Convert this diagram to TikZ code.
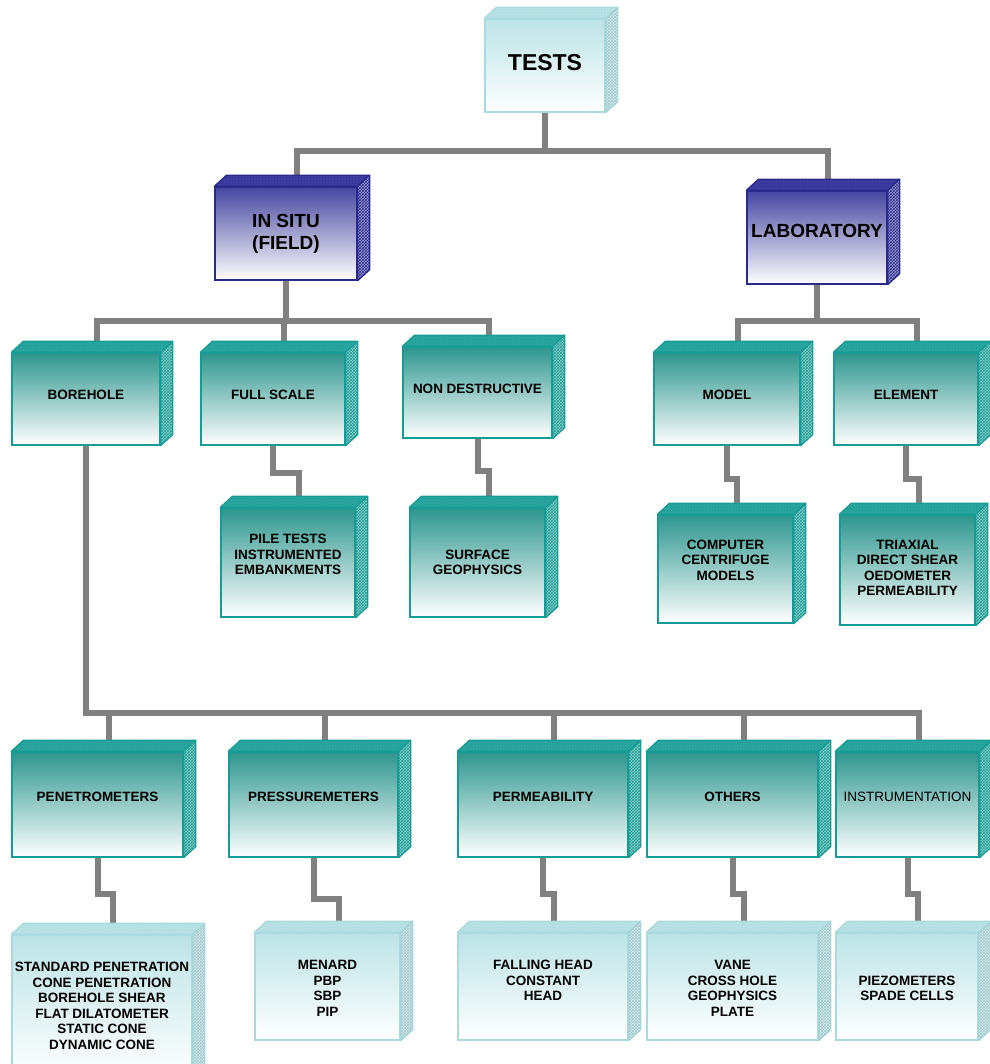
\documentclass[tikz,border=0pt]{standalone}
\usepackage{fontspec}
\setmainfont{Liberation Sans}
\usetikzlibrary{calc,backgrounds,patterns}
\definecolor{tealB}{RGB}{22,156,148}
\definecolor{tealT}{RGB}{42,166,158}
\definecolor{tealF}{RGB}{45,150,142}
\definecolor{tealS}{RGB}{150,210,205}
\definecolor{blueB}{RGB}{42,42,140}
\definecolor{blueT}{RGB}{62,62,160}
\definecolor{blueF}{RGB}{70,70,160}
\definecolor{blueS}{RGB}{160,160,210}
\definecolor{lightB}{RGB}{168,218,222}
\definecolor{lightT}{RGB}{186,226,229}
\definecolor{lightF}{RGB}{188,227,230}
\definecolor{lightS}{RGB}{214,236,238}
\definecolor{connG}{RGB}{128,128,128}
\tikzset{
  x=1pt, y=-1pt,
  box/.style={draw, line width=1.4pt, inner sep=0pt},
  tealbox/.style={box, draw=tealB, top color=tealF, bottom color=white},
  bluebox/.style={box, draw=blueB, top color=blueF, bottom color=white},
  lightbox/.style={box, draw=lightB, top color=lightF, bottom color=white},
  txt/.style={align=center, text=black, inner sep=0pt,
    font=\fontsize{13.5}{15.5}\selectfont\bfseries},
  tealtxt/.style={txt},
  lighttxt/.style={txt},
  bluetxt/.style={txt, font=\fontsize{19}{22}\selectfont\bfseries},
  tealtop/.style={fill=tealT, draw=tealB, line width=1.2pt, line join=round,
    postaction={pattern=crosshatch dots, pattern color=tealB}},
  tealside/.style={fill=tealS, draw=tealB, line width=1.2pt, line join=round,
    postaction={pattern=crosshatch, pattern color=tealB}},
  bluetop/.style={fill=blueT, draw=blueB, line width=1.2pt, line join=round,
    postaction={pattern=crosshatch dots, pattern color=blueB}},
  blueside/.style={fill=blueS, draw=blueB, line width=1.2pt, line join=round,
    postaction={pattern=crosshatch, pattern color=blueB}},
  lighttop/.style={fill=lightT, draw=lightB, line width=1.2pt, line join=round,
    postaction={pattern=crosshatch dots, pattern color=lightB}},
  lightside/.style={fill=lightS, draw=lightB, line width=1.2pt, line join=round,
    postaction={pattern=crosshatch, pattern color=lightB!80!gray}},
  conn/.style={draw=connG, line width=6pt, line join=miter},
}
% #1 text options, #2 palette, #3 name, #4 x1, #5 y1, #6 x2, #7 y2, #8 text dy, #9 text
\newcommand\mkbox[9][]{%
  \node[#2box, minimum width={#6-#4}, minimum height={#7-#5}] (#3)
    at ({(#4+#6)/2},{(#5+#7)/2}) {};
  \filldraw[#2top] (#3.north west) -- ++(12,-11) -- ($(#3.north east)+(12,-11)$)
    -- (#3.north east) -- cycle;
  \filldraw[#2side] (#3.north east) -- ++(12,-11) -- ($(#3.south east)+(12,-11)$)
    -- (#3.south east) -- cycle;
  \node[#2txt, #1] (#3-text) at ($(#3.center)+(0,#8)$) {#9};
  \coordinate (#3-top) at ($(#3.north)+(11,-11)$);
}
\begin{document}
\begin{tikzpicture}
\useasboundingbox (0,0) rectangle (989,1064);
% level 1
\mkbox[font=\fontsize{23}{27}\selectfont\bfseries]{light}{tests}{485}{19}{605}{112}{-3}{TESTS}
% level 2
\mkbox{blue}{insitu}{215}{187}{357}{280}{0}{IN SITU\\(FIELD)}
\mkbox{blue}{lab}{747}{191}{887}{284}{-7}{LABORATORY}
% level 3
\mkbox{teal}{bore}{12}{353}{160}{445}{-4}{BOREHOLE}
\mkbox{teal}{full}{201}{353}{345}{445}{-4}{FULL SCALE}
\mkbox{teal}{nd}{403}{347}{552}{438}{-4}{NON DESTRUCTIVE}
\mkbox{teal}{model}{654}{353}{800}{445}{-4}{MODEL}
\mkbox{teal}{elem}{834}{353}{978}{445}{-4}{ELEMENT}
% level 4
\mkbox{teal}{pile}{221}{508}{355}{617}{-8}{PILE TESTS\\INSTRUMENTED\\EMBANKMENTS}
\mkbox{teal}{surf}{410}{508}{545}{617}{0}{SURFACE\\GEOPHYSICS}
\mkbox{teal}{comp}{658}{515}{793}{623}{-9}{COMPUTER\\CENTRIFUGE\\MODELS}
\mkbox{teal}{tri}{840}{515}{975}{625}{-2}{TRIAXIAL\\DIRECT SHEAR\\OEDOMETER\\PERMEABILITY}
% level 5
\mkbox{teal}{pen}{12}{752}{183}{857}{-8}{PENETROMETERS}
\mkbox{teal}{press}{229}{752}{398}{857}{-8}{PRESSUREMETERS}
\mkbox{teal}{perm}{458}{752}{628}{857}{-8}{PERMEABILITY}
\mkbox{teal}{oth}{647}{752}{818}{857}{-8}{OTHERS}
\mkbox[font=\fontsize{13.5}{15.5}\selectfont]{teal}{inst}{836}{752}{979}{857}{-8}{INSTRUMENTATION}
% level 6
\mkbox{light}{std}{12}{935}{192}{1077}{0}{STANDARD PENETRATION\\CONE PENETRATION\\BOREHOLE SHEAR\\FLAT DILATOMETER\\STATIC CONE\\DYNAMIC CONE}
\mkbox{light}{menard}{255}{933}{400}{1040}{2}{MENARD\\PBP\\SBP\\PIP}
\mkbox{light}{fall}{458}{933}{628}{1040}{-6}{FALLING HEAD\\CONSTANT\\HEAD}
\mkbox{light}{vane}{647}{933}{818}{1040}{2}{VANE\\CROSS HOLE\\GEOPHYSICS\\PLATE}
\mkbox{light}{piezo}{836}{933}{978}{1040}{2}{PIEZOMETERS\\SPADE CELLS}
% connectors
\begin{scope}[on background layer]
\draw[conn] (tests.south) -- ++(0,38) -| (insitu-top);
\draw[conn] (tests.south) -- ++(0,38) -| (lab-top);
\draw[conn] (insitu.south) -- ++(0,40) -| (bore-top);
\draw[conn] (insitu.south) -- ++(0,40) -| (full-top);
\draw[conn] (insitu.south) -- ++(0,40) -| (nd-top);
\draw[conn] (lab.south) -- ++(0,36) -| (model-top);
\draw[conn] (lab.south) -- ++(0,36) -| (elem-top);
\draw[conn] (full.south) -- ++(0,27) -| (pile-top);
\draw[conn] (nd.south) -- ++(0,32) -| (surf-top);
\draw[conn] (model.south) -- ++(0,33) -| (comp-top);
\draw[conn] (elem.south) -- ++(0,33) -| (tri-top);
\draw[conn] (bore.south) -- ++(0,267) -| (pen-top);
\draw[conn] (bore.south) -- ++(0,267) -| (press-top);
\draw[conn] (bore.south) -- ++(0,267) -| (perm-top);
\draw[conn] (bore.south) -- ++(0,267) -| (oth-top);
\draw[conn] (bore.south) -- ++(0,267) -| (inst-top);
\draw[conn] (pen.south) -- ++(0,36) -| (std-top);
\draw[conn] (press.south) -- ++(0,41) -| (menard-top);
\draw[conn] (perm.south) -- ++(0,36) -| (fall-top);
\draw[conn] (oth.south) -- ++(0,36) -| (vane-top);
\draw[conn] (inst.south) -- ++(0,36) -| (piezo-top);
\end{scope}
\end{tikzpicture}
\end{document}
